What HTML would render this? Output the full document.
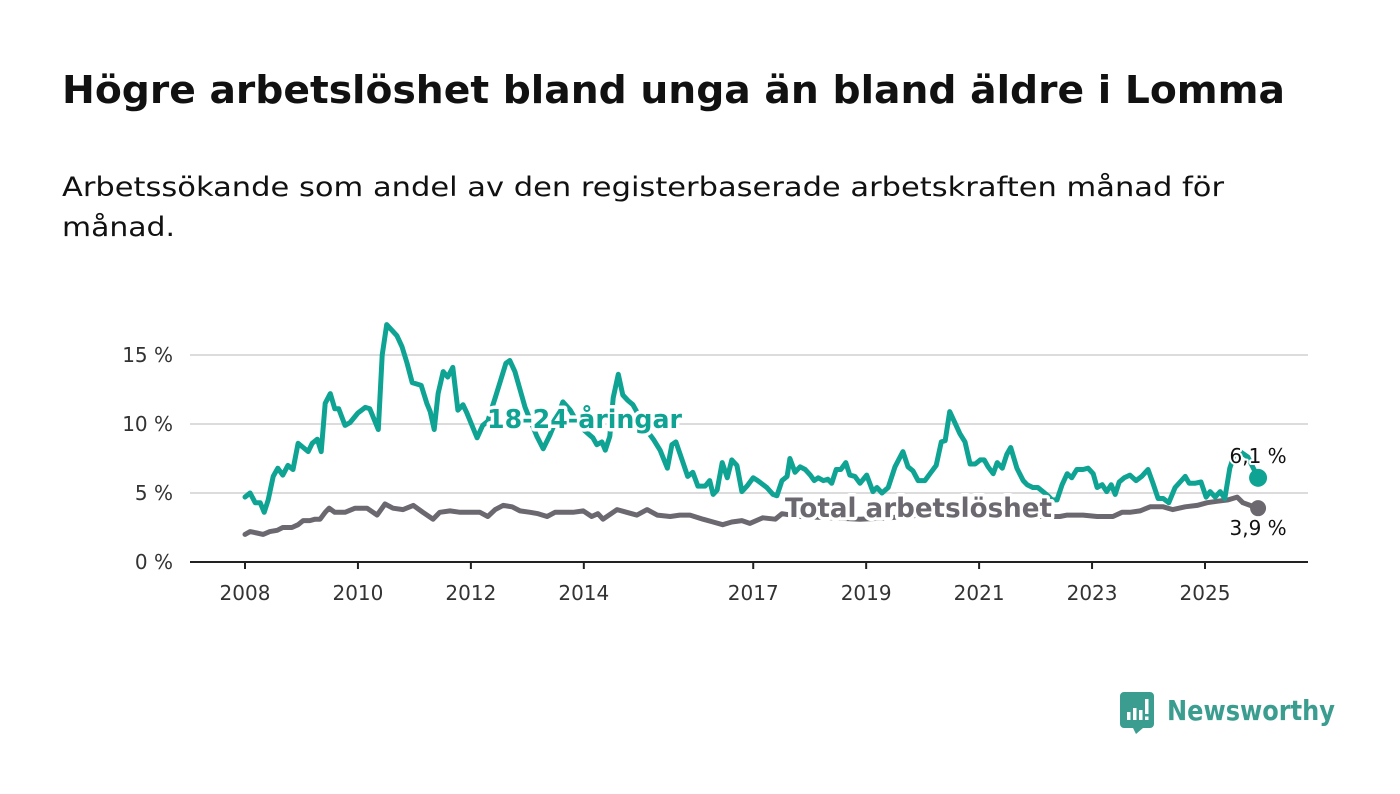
<!DOCTYPE html>
<html><head><meta charset="utf-8"><style>
html,body{margin:0;padding:0;background:#fff;}
svg{display:block;font-family:"DejaVu Sans","Liberation Sans",sans-serif;}
</style></head><body>
<svg width="1400" height="794" viewBox="0 0 1400 794" xmlns="http://www.w3.org/2000/svg">
<text x="62" y="103" font-size="38" font-weight="bold" fill="#111" textLength="1223" lengthAdjust="spacingAndGlyphs">Högre arbetslöshet bland unga än bland äldre i Lomma</text>
<text x="62" y="196" font-size="27" fill="#111" textLength="1162" lengthAdjust="spacingAndGlyphs">Arbetssökande som andel av den registerbaserade arbetskraften månad för</text>
<text x="62" y="236" font-size="27" fill="#111" textLength="113" lengthAdjust="spacingAndGlyphs">månad.</text>
<g id="grid"></g>
<g id="yaxis"></g>
<g id="xaxis"></g>
<g id="lines"></g>
<g id="labels"></g>
<g>
<path d="M1124 692 H1150 a4 4 0 0 1 4 4 V724 a4 4 0 0 1 -4 4 H1143 L1136 734 L1133 728 H1124 a4 4 0 0 1 -4 -4 V696 a4 4 0 0 1 4 -4 Z" fill="#3b9d90"/>
<rect x="1127" y="712" width="3.5" height="8" fill="#fff"/>
<rect x="1133" y="708" width="3.5" height="12" fill="#fff"/>
<rect x="1139" y="710" width="3.5" height="10" fill="#fff"/>
<rect x="1145" y="699" width="3.5" height="15" fill="#fff"/>
<rect x="1145" y="716.5" width="3.5" height="3.5" fill="#fff"/>
<text x="1167" y="720" font-size="28" font-weight="bold" fill="#3b9d90" textLength="168" lengthAdjust="spacingAndGlyphs">Newsworthy</text>
</g>
</svg>
<script>
const youthDates=[2008.0,2008.09,2008.18,2008.27,2008.34,2008.41,2008.50,2008.58,2008.67,2008.76,2008.85,2008.94,2009.03,2009.12,2009.19,2009.28,2009.35,2009.42,2009.51,2009.59,2009.66,2009.77,2009.86,2010.00,2010.13,2010.21,2010.36,2010.43,2010.51,2010.69,2010.78,2010.87,2010.96,2011.12,2011.22,2011.28,2011.35,2011.42,2011.51,2011.59,2011.68,2011.77,2011.86,2011.93,2012.02,2012.11,2012.21,2012.30,2012.36,2012.43,2012.62,2012.69,2012.78,2012.87,2012.96,2013.05,2013.17,2013.28,2013.40,2013.53,2013.63,2013.76,2013.90,2014.02,2014.16,2014.23,2014.32,2014.38,2014.46,2014.52,2014.61,2014.69,2014.78,2014.87,2014.99,2015.12,2015.23,2015.35,2015.48,2015.56,2015.63,2015.74,2015.84,2015.93,2016.02,2016.15,2016.23,2016.29,2016.36,2016.45,2016.54,2016.62,2016.71,2016.80,2016.89,2017.00,2017.08,2017.24,2017.35,2017.42,2017.51,2017.60,2017.65,2017.74,2017.83,2017.92,2018.01,2018.08,2018.15,2018.24,2018.32,2018.39,2018.47,2018.55,2018.64,2018.71,2018.80,2018.89,2019.01,2019.12,2019.19,2019.28,2019.39,2019.51,2019.65,2019.74,2019.83,2019.92,2020.04,2020.13,2020.24,2020.33,2020.40,2020.48,2020.57,2020.66,2020.75,2020.84,2020.93,2021.02,2021.09,2021.16,2021.25,2021.32,2021.41,2021.49,2021.56,2021.67,2021.78,2021.85,2021.95,2022.04,2022.13,2022.22,2022.29,2022.38,2022.47,2022.56,2022.64,2022.73,2022.84,2022.93,2023.02,2023.09,2023.18,2023.26,2023.34,2023.41,2023.48,2023.57,2023.67,2023.78,2023.88,2023.99,2024.08,2024.17,2024.26,2024.36,2024.47,2024.56,2024.65,2024.72,2024.82,2024.93,2025.02,2025.09,2025.18,2025.27,2025.35,2025.44,2025.52,2025.62,2025.76,2025.94];
const youthValues=[4.7,5.0,4.3,4.3,3.6,4.5,6.2,6.8,6.3,7.0,6.7,8.6,8.3,8.0,8.6,8.9,8.0,11.5,12.2,11.1,11.1,9.9,10.1,10.8,11.2,11.1,9.6,15.0,17.2,16.4,15.6,14.4,13.0,12.8,11.5,10.9,9.6,12.2,13.8,13.4,14.1,11.0,11.4,10.8,9.9,9.0,9.9,10.2,11.0,11.9,14.4,14.6,13.8,12.5,11.2,10.3,9.1,8.2,9.2,10.5,11.6,11.0,10.0,9.5,9.0,8.5,8.7,8.1,9.1,11.9,13.6,12.1,11.7,11.4,10.5,9.5,8.9,8.1,6.8,8.5,8.7,7.4,6.2,6.5,5.5,5.5,5.9,4.9,5.2,7.2,6.1,7.4,7.0,5.1,5.5,6.1,5.9,5.4,4.9,4.8,5.9,6.2,7.5,6.5,6.9,6.7,6.3,5.9,6.1,5.9,6.0,5.7,6.7,6.7,7.2,6.3,6.2,5.7,6.3,5.1,5.4,5.0,5.4,6.9,8.0,6.9,6.6,5.9,5.9,6.4,7.0,8.7,8.8,10.9,10.1,9.3,8.7,7.1,7.1,7.4,7.4,6.9,6.4,7.2,6.8,7.8,8.3,6.8,5.9,5.6,5.4,5.4,5.1,4.8,4.5,4.5,5.6,6.4,6.1,6.7,6.7,6.8,6.4,5.4,5.6,5.1,5.6,4.9,5.8,6.1,6.3,5.9,6.2,6.7,5.7,4.6,4.6,4.3,5.4,5.8,6.2,5.7,5.7,5.8,4.7,5.1,4.7,5.1,4.6,6.8,7.8,8.0,7.6,6.1];
const totalDates=[2008.0,2008.09,2008.21,2008.32,2008.44,2008.57,2008.67,2008.83,2008.94,2009.03,2009.15,2009.24,2009.33,2009.42,2009.49,2009.59,2009.77,2009.95,2010.16,2010.34,2010.48,2010.62,2010.80,2010.98,2011.15,2011.33,2011.45,2011.63,2011.81,2011.98,2012.16,2012.30,2012.43,2012.57,2012.73,2012.87,2013.05,2013.19,2013.35,2013.49,2013.63,2013.81,2013.99,2014.14,2014.25,2014.34,2014.59,2014.76,2014.94,2015.12,2015.30,2015.53,2015.70,2015.88,2016.11,2016.29,2016.46,2016.62,2016.80,2016.94,2017.17,2017.39,2017.51,2017.83,2018.36,2018.89,2019.42,2019.95,2020.48,2021.02,2021.55,2022.08,2022.43,2022.56,2022.84,2023.09,2023.37,2023.53,2023.67,2023.85,2024.03,2024.26,2024.43,2024.65,2024.86,2025.04,2025.21,2025.41,2025.57,2025.67,2025.80,2025.94];
const totalValues=[2.0,2.2,2.1,2.0,2.2,2.3,2.5,2.5,2.7,3.0,3.0,3.1,3.1,3.6,3.9,3.6,3.6,3.9,3.9,3.4,4.2,3.9,3.8,4.1,3.6,3.1,3.6,3.7,3.6,3.6,3.6,3.3,3.8,4.1,4.0,3.7,3.6,3.5,3.3,3.6,3.6,3.6,3.7,3.3,3.5,3.1,3.8,3.6,3.4,3.8,3.4,3.3,3.4,3.4,3.1,2.9,2.7,2.9,3.0,2.8,3.2,3.1,3.5,3.3,3.2,3.1,3.2,3.4,4.2,3.9,3.6,3.3,3.3,3.4,3.4,3.3,3.3,3.6,3.6,3.7,4.0,4.0,3.8,4.0,4.1,4.3,4.4,4.5,4.7,4.3,4.1,3.9];
const yTickValues=[0,5,10,15];
const yTickLabels=["0 %","5 %","10 %","15 %"];
const xTickYears=[2008,2010,2012,2014,2017,2019,2021,2023,2025];
const youthEndLabel="6,1 %";
const totalEndLabel="3,9 %";

const NS="http://www.w3.org/2000/svg";
const X0=245,PXY=56.47,Y0=562,PXV=13.8;
function xs(yr){return X0+(yr-2008)*PXY;}
function ys(v){return Y0-v*PXV;}
function mk(tag,attrs,parent,txt){const e=document.createElementNS(NS,tag);for(const k in attrs)e.setAttribute(k,attrs[k]);if(txt!==undefined)e.textContent=txt;parent.appendChild(e);return e;}
const grid=document.getElementById('grid'),ya=document.getElementById('yaxis'),xa=document.getElementById('xaxis'),lines=document.getElementById('lines'),labels=document.getElementById('labels');
yTickValues.forEach((v,i)=>{
  if(v!==0){const g=mk('line',{x1:190,x2:1308,y1:ys(v),y2:ys(v),stroke:'#dcdcdc','stroke-width':2},grid);
  
  }
  const t=mk('text',{x:173,y:ys(v)+7,'text-anchor':'end','font-size':20,fill:'#333'},ya,yTickLabels[i]);
  
  
});
const ax=mk('line',{x1:190,x2:1308,y1:Y0,y2:Y0,stroke:'#222','stroke-width':2},xa);


xTickYears.forEach(yr=>{
  const tk=mk('line',{x1:xs(yr),x2:xs(yr),y1:Y0,y2:Y0+7,stroke:'#222','stroke-width':2},xa);
  
  
  const t=mk('text',{x:xs(yr),y:Y0+38,'text-anchor':'middle','font-size':20,fill:'#333'},xa,String(yr));
  
  
});
function pathD(d,v){return d.map((yr,i)=>(i?'L':'M')+xs(yr).toFixed(1)+' '+ys(v[i]).toFixed(1)).join(' ');}
const tl=mk('path',{d:pathD(totalDates,totalValues),fill:'none',stroke:'#6b686f','stroke-width':5,'stroke-linejoin':'round','stroke-linecap':'round'},lines);


const yl=mk('path',{d:pathD(youthDates,youthValues),fill:'none',stroke:'#0fa394','stroke-width':5,'stroke-linejoin':'round','stroke-linecap':'round'},lines);


const ty=totalDates[totalDates.length-1],tv=totalValues[totalValues.length-1];
const yy=youthDates[youthDates.length-1],yv=youthValues[youthValues.length-1];
const td=mk('circle',{cx:xs(ty),cy:ys(tv),r:8,fill:'#6b686f'},lines);


const yd=mk('circle',{cx:xs(yy),cy:ys(yv),r:9,fill:'#0fa394'},lines);


function halo(attrs,txt,name){
  const t=mk('text',Object.assign({stroke:'#fff','stroke-width':7,'paint-order':'stroke','stroke-linejoin':'round'},attrs),labels,txt);
  
  
}
halo({x:487,y:428,'font-size':26,'font-weight':'bold',fill:'#0fa394',textLength:195,lengthAdjust:'spacingAndGlyphs'},'18-24-åringar','youth-series-label');
halo({x:785,y:517,'font-size':27,'font-weight':'bold',fill:'#6b686f',textLength:267,lengthAdjust:'spacingAndGlyphs'},'Total arbetslöshet','total-series-label');
halo({x:xs(yy),y:ys(yv)-15,'font-size':20,fill:'#111','text-anchor':'middle','stroke-width':4},youthEndLabel,'youth-end-label');
halo({x:xs(ty),y:ys(tv)+27,'font-size':20,fill:'#111','text-anchor':'middle','stroke-width':4},totalEndLabel,'total-end-label');
</script>
</body></html>
